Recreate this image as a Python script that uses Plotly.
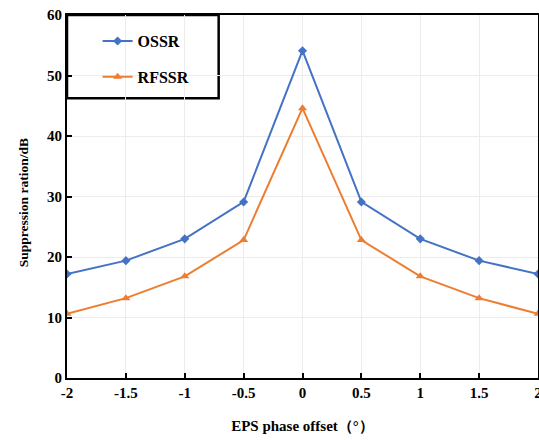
import plotly.graph_objects as go

phase = [-2, -1.5, -1, -0.5, 0, 0.5, 1, 1.5, 2]
ossr = [17.2, 19.4, 23.0, 29.1, 54.1, 29.1, 23.0, 19.4, 17.2]
rfssr = [10.6, 13.2, 16.8, 22.8, 44.6, 22.8, 16.8, 13.2, 10.6]
x_ticks = [-2, -1.5, -1, -0.5, 0, 0.5, 1, 1.5, 2]
y_ticks = [0, 10, 20, 30, 40, 50, 60]

font = "Liberation Serif"

fig = go.Figure()
fig.add_trace(go.Scatter(x=phase, y=ossr, name="OSSR", mode="lines+markers", legendgroup="a",
                         line=dict(color="#4472C4", width=2),
                         marker=dict(symbol="diamond", size=7, color="#4472C4")))
fig.add_trace(go.Scatter(x=phase, y=rfssr, name="RFSSR", mode="lines+markers", legendgroup="b",
                         line=dict(color="#ED7D31", width=2),
                         marker=dict(symbol="triangle-up", size=8, color="#ED7D31")))

axis_common = dict(showline=True, linecolor="black", linewidth=2, mirror=True,
                   ticks="inside", ticklen=5, tickwidth=2, tickcolor="black",
                   showgrid=True, gridcolor="#ececec", gridwidth=1, zeroline=False,
                   automargin=False, ticklabeloverflow="allow",
                   tickfont=dict(family=font, size=15, color="black", weight="bold"))

fig.update_layout(
    width=539, height=440,
    margin=dict(l=67, r=1, t=15, b=62),
    paper_bgcolor="white", plot_bgcolor="white",
    xaxis=dict(range=[-2, 2], tickvals=x_ticks, ticktext=[str(v) for v in x_ticks],
               title=dict(text="EPS phase offset（°）", font=dict(family=font, size=15, color="black", weight="bold"), standoff=20),
               **axis_common),
    yaxis=dict(range=[0, 60], tickvals=y_ticks, **axis_common),
    legend=dict(x=0.065, y=0.975, xanchor="left", yanchor="top", bgcolor="rgba(0,0,0,0)",
                borderwidth=0, tracegroupgap=12, itemwidth=30,
                font=dict(family=font, size=16, color="black", weight="bold")),
    shapes=[dict(type="rect", xref="paper", yref="paper", x0=0, x1=0.322, y0=0.771, y1=1,
                 line=dict(color="black", width=2.5), fillcolor="white", layer="below")],
    annotations=[dict(text="Suppression ration/dB", xref="paper", yref="paper",
                      x=-0.093, y=0.482, xanchor="center", yanchor="middle",
                      textangle=-90, showarrow=False,
                      font=dict(family=font, size=13.5, color="black", weight="bold"))],
)

fig.write_html("out.html", config={"displayModeBar": False},
               post_script="document.body.style.margin='0';document.body.style.overflow='hidden';")
